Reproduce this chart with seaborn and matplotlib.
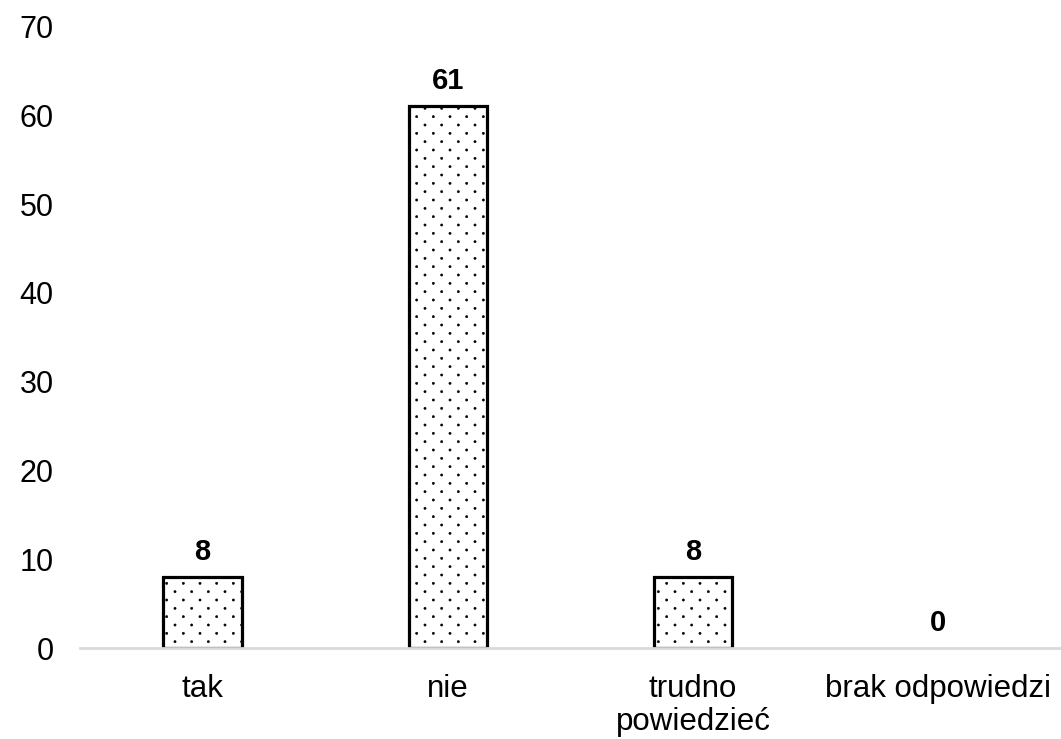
import matplotlib
matplotlib.use("Agg")
import numpy as np
import matplotlib.pyplot as plt
import matplotlib.hatch as mh
from matplotlib.path import Path
import seaborn as sns
import pandas as pd

categories = ["tak", "nie", "trudno\npowiedzieć", "brak odpowiedzi"]
values = [8, 61, 8, 0]
yticks = [0, 10, 20, 30, 40, 50, 60, 70]


class DotLattice(mh.SmallFilledCircles):
    """Small dots: staggered rows, twice as many rows as columns."""
    dot_r = 0.011

    def __init__(self, hatch, density):
        n = hatch.count('.') * density
        path = Path.unit_circle()
        self.shape_vertices = path.vertices
        self.shape_codes = path.codes
        self.ncols = n
        self.nrows = 2 * n
        self.num_rows = n
        if n == 0:
            self.num_shapes = 0
            self.num_vertices = 0
        else:
            cnt = 0
            for r in range(self.nrows + 1):
                cnt += (self.ncols + 1) if r % 2 == 0 else self.ncols
            self.num_shapes = cnt
            self.num_vertices = cnt * len(self.shape_vertices)

    def set_vertices_and_codes(self, vertices, codes):
        ox = 1.0 / self.ncols
        oy = 1.0 / self.nrows
        sv = self.shape_vertices * self.dot_r
        vparts, cparts = [], []
        for r in range(self.nrows + 1):
            if r % 2 == 0:
                cols = np.linspace(0, 1, self.ncols + 1)
            else:
                cols = np.linspace(ox / 2, 1 - ox / 2, self.ncols)
            for c in cols:
                vparts.append(sv + [c, r * oy])
                cparts.append(self.shape_codes)
        np.concatenate(vparts, out=vertices)
        np.concatenate(cparts, out=codes)


mh._hatch_types = [DotLattice if t is mh.SmallFilledCircles else t
                   for t in mh._hatch_types]

sns.set_style("white")
plt.rcParams["font.family"] = ["Liberation Sans", "DejaVu Sans"]
plt.rcParams["hatch.linewidth"] = 0.4
plt.rcParams["hatch.color"] = "black"
plt.rcParams["text.color"] = "black"
plt.rcParams["xtick.color"] = "black"
plt.rcParams["ytick.color"] = "black"

df = pd.DataFrame({"cat": categories, "val": values})

fig = plt.figure(figsize=(10.61, 7.39), dpi=100)
ax = fig.add_axes([0.0754, 0.1231, 0.9246, 0.8411])

sns.barplot(data=df, x="cat", y="val", ax=ax, color="white", width=0.32,
            edgecolor="black", linewidth=2.3)
for p, v in zip(ax.patches, values):
    p.set_hatch(".")
    p.set_facecolor("white")
    if v == 0:
        p.set_linewidth(0)
        p.set_hatch(None)

ax.set_ylim(0, 70)
ax.set_yticks(yticks)
ax.set_xlim(-0.5, 3.5)
ax.set_xlabel("")
ax.set_ylabel("")
for s in ["left", "right", "top"]:
    ax.spines[s].set_visible(False)
ax.spines["bottom"].set_color("#d9d9d9")
ax.spines["bottom"].set_linewidth(2)
ax.spines["bottom"].set_zorder(5)
ax.tick_params(axis="both", length=0, labelcolor="black")
ax.tick_params(axis="y", pad=19, labelsize=22)
ax.tick_params(axis="x", pad=19, labelsize=22.5)
for lab in ax.get_xticklabels():
    lab.set_linespacing(1.1)

for i, v in enumerate(values):
    ax.annotate(str(v), (i, v), xytext=(0, 8), textcoords="offset points",
                ha="center", va="bottom", fontsize=21, fontweight="bold",
                color="black")

fig.savefig("out.png", dpi=100)
